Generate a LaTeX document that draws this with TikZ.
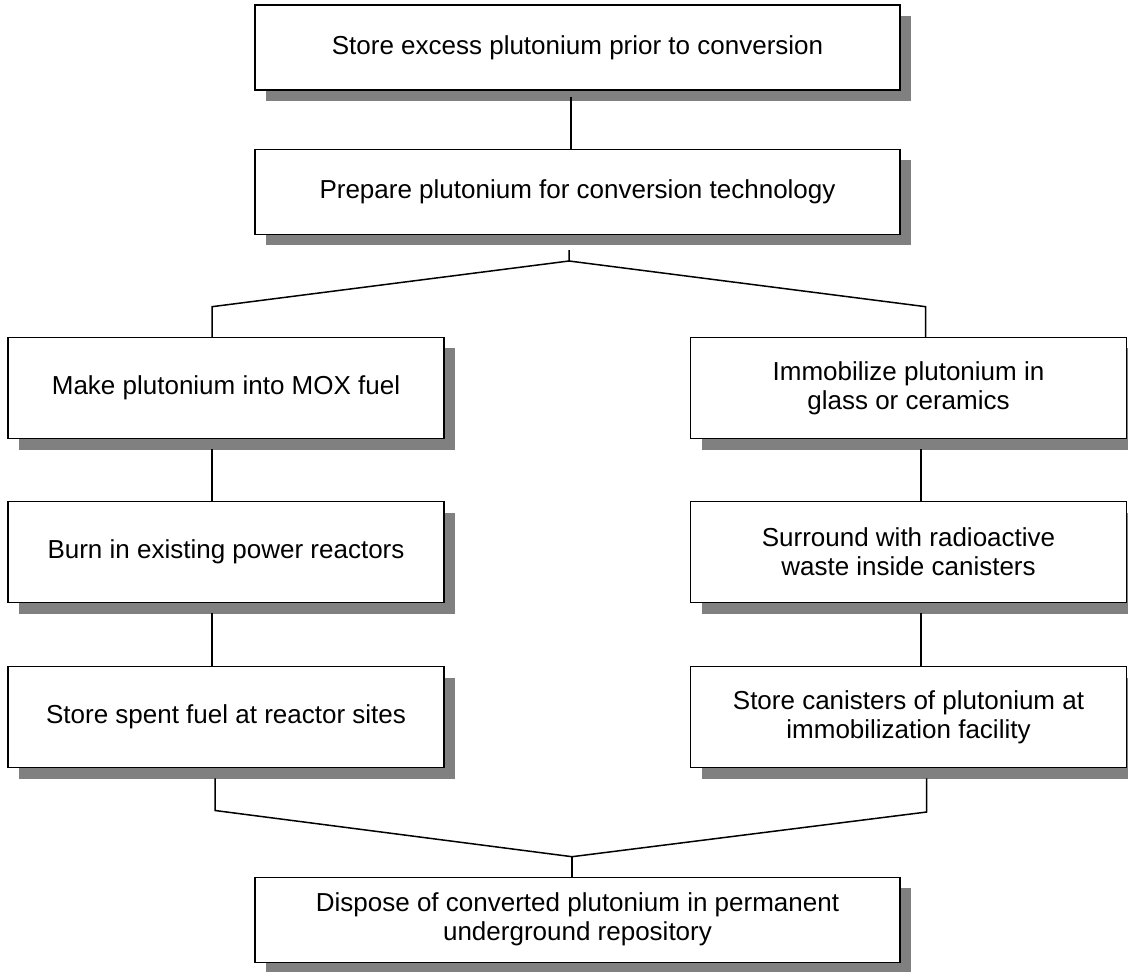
\documentclass[tikz,border=0pt]{standalone}
\usepackage{fontspec}
\setmainfont{Liberation Sans}
\usetikzlibrary{shadows}
\definecolor{shadowgray}{RGB}{128,128,128}
\begin{document}
\begin{tikzpicture}[x=0.5pt,y=-0.5pt,
  box/.style={draw,line width=0.7pt,fill=white,inner sep=0pt,align=center,
    font=\fontsize{13}{14.5}\selectfont,
    drop shadow={shadow xshift=5.5pt,shadow yshift=-5.5pt,fill=shadowgray,opacity=1}},
  wide/.style={box,minimum width=322.5pt,minimum height=42.5pt},
  col/.style={box,minimum width=218pt,minimum height=50.5pt},
  link/.style={line width=0.75pt}]
\useasboundingbox (0,0) rectangle (1128,972);

\node[wide] (top) at (577.5,47.5) {Store excess plutonium prior to conversion};
\node[wide] (prep) at (577.5,192) {Prepare plutonium for conversion technology};
\node[col] (mox) at (226,388) {Make plutonium into MOX fuel};
\node[col] (burn) at (226,552.2) {Burn in existing power reactors};
\node[col] (spent) at (226,717.2) {Store spent fuel at reactor sites};
\node[col] (immob) at (908.5,388) {Immobilize plutonium in\\glass or ceramics};
\node[col] (surr) at (908.5,552.2) {Surround with radioactive\\waste inside canisters};
\node[col] (canst) at (908.5,717.2) {Store canisters of plutonium at\\immobilization facility};
\node[wide] (disp) at (577.5,919.7) {Dispose of converted plutonium in permanent\\underground repository};

\coordinate (c1) at (571,0);
\coordinate (m1) at (569,261);
\coordinate (kl) at (212,306.7);
\coordinate (kr) at (925.7,306.7);
\coordinate (cl) at (212,0);
\coordinate (cr) at (921,0);
\coordinate (bl) at (215,810.5);
\coordinate (br) at (926.7,812);
\coordinate (m2) at (572,856.7);

\draw[link] ([yshift=-3pt]top.south -| c1) -- (prep.north -| c1);
\draw[link] ([yshift=-7.5pt]prep.south -| m1) -- (m1) -- (kl) -- (kl |- mox.north);
\draw[link] (m1) -- (kr) -- (kr |- immob.north);
\draw[link] ([yshift=-5pt]mox.south -| cl) -- (burn.north -| cl);
\draw[link] ([yshift=-5pt]burn.south -| cl) -- (spent.north -| cl);
\draw[link] ([yshift=-5pt]immob.south -| cr) -- (surr.north -| cr);
\draw[link] ([yshift=-5pt]surr.south -| cr) -- (canst.north -| cr);
\draw[link] ([yshift=-5pt]spent.south -| bl) -- (bl) -- (m2);
\draw[link] ([yshift=-5pt]canst.south -| br) -- (br) -- (m2);
\draw[link] (m2) -- (m2 |- disp.north);
\end{tikzpicture}
\end{document}
